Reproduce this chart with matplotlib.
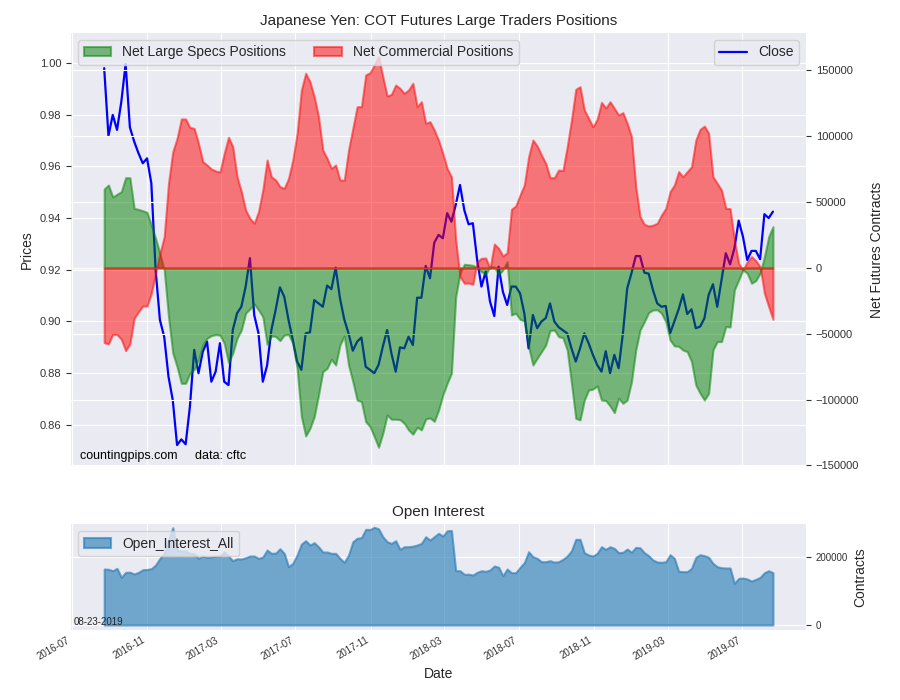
import numpy as np
import pandas as pd
import matplotlib
matplotlib.use("Agg")
import matplotlib.pyplot as plt
import matplotlib.dates as mdates

# weekly COT report dates
dates = pd.date_range("2016-08-23", periods=157, freq="7D")

close = [
    0.9980, 0.9718, 0.9799, 0.9741, 0.9850, 0.9996, 0.9751, 0.9696, 0.9651, 0.9612,
    0.9631, 0.9535, 0.9199, 0.9006, 0.8941, 0.8787, 0.8696, 0.8522, 0.8544, 0.8525,
    0.8671, 0.8890, 0.8800, 0.8883, 0.8922, 0.8767, 0.8806, 0.8916, 0.8767, 0.8754,
    0.8967, 0.9032, 0.9057, 0.9135, 0.9245, 0.9025, 0.8954, 0.8767, 0.8830, 0.8967,
    0.9045, 0.9132, 0.9096, 0.9006, 0.8929, 0.8845, 0.8813, 0.8954, 0.8958, 0.9083,
    0.9070, 0.9057, 0.9139, 0.9125, 0.9208, 0.9090, 0.9008, 0.8954, 0.8887, 0.8922,
    0.8938, 0.8825, 0.8813, 0.8800, 0.8832, 0.8903, 0.8967, 0.8877, 0.8806, 0.8900,
    0.8896, 0.8941, 0.8909, 0.9092, 0.9092, 0.9215, 0.9167, 0.9305, 0.9335, 0.9322,
    0.9419, 0.9386, 0.9451, 0.9528, 0.9431, 0.9376, 0.9380, 0.9238, 0.9135, 0.9193,
    0.9077, 0.9021, 0.9212, 0.9115, 0.9064, 0.9135, 0.9135, 0.9109, 0.9032, 0.8896,
    0.9025, 0.8974, 0.9000, 0.9013, 0.9070, 0.9000, 0.8978, 0.8966, 0.8954, 0.8896,
    0.8845, 0.8896, 0.8954, 0.8916, 0.8871, 0.8832, 0.8806, 0.8885, 0.8800, 0.8871,
    0.8819, 0.8954, 0.9128, 0.9187, 0.9253, 0.9253, 0.9189, 0.9185, 0.9122, 0.9070,
    0.9057, 0.9060, 0.8954, 0.9000, 0.9047, 0.9105, 0.9029, 0.9047, 0.8974, 0.8980,
    0.9012, 0.9103, 0.9144, 0.9057, 0.9161, 0.9264, 0.9221, 0.9283, 0.9390, 0.9328,
    0.9238, 0.9273, 0.9273, 0.9241, 0.9415, 0.9400, 0.9425,
]

large_specs = [
    60000, 63000, 54000, 56000, 58000, 68600, 68600, 45300, 44500, 43500,
    42300, 32700, 22500, 11100, -1500, -37000, -64600, -75000, -87600, -87600,
    -80000, -77000, -70000, -58500, -53400, -51400, -50600, -51000, -57200, -71900,
    -64600, -53400, -47100, -34400, -31000, -27300, -31900, -37000, -58000, -51600,
    -52000, -55200, -50900, -50500, -57200, -76200, -112900, -127600, -121800, -112900,
    -96500, -78700, -76200, -69400, -73700, -58500, -51600, -73700, -86300, -100300,
    -101500, -116700, -120500, -128100, -136200, -125600, -111700, -114900, -114900, -115200,
    -118000, -123000, -126300, -121000, -123000, -114700, -113900, -116500, -108000, -96500,
    -87600, -80000, -21800, -4000, 2800, 2500, 2000, 300, -2800, -4800,
    1000, 800, -5300, -1500, 4800, -35700, -34400, -39000, -40300, -59800,
    -73700, -68600, -63600, -58500, -47600, -47100, -52200, -53000, -62300, -87600,
    -114200, -115400, -100300, -92700, -92000, -89600, -100300, -100700, -104800, -109900,
    -99000, -102800, -100300, -86300, -62300, -47100, -40800, -33900, -31900, -31700,
    -34400, -40800, -54700, -59200, -59500, -62300, -63600, -71100, -88900, -95200,
    -100300, -95200, -62300, -55900, -55900, -44500, -44800, -16700, -9100, -1500,
    -4000, -11600, -9600, -4000, 8600, 23800, 31400,
]

commercial = [
    -56700, -57700, -50400, -50600, -54200, -62800, -57700, -38200, -33200, -28900,
    -28900, -19200, -4000, 11100, 23800, 64300, 88300, 98500, 113200, 113200,
    106800, 106000, 94700, 80800, 78200, 75200, 73700, 72900, 87100, 99300,
    92100, 69300, 58000, 44000, 37700, 34000, 42800, 59200, 82000, 69300,
    66800, 61800, 60500, 68000, 82000, 102300, 135200, 147900, 141500, 130100,
    114900, 89600, 83300, 75700, 78200, 66800, 66700, 89600, 106100, 122500,
    122500, 146600, 148300, 154200, 160500, 145300, 130600, 131900, 139000, 136500,
    132700, 135200, 140300, 122500, 126300, 109900, 111100, 104800, 97000, 87100,
    75700, 69300, 21300, -6600, -11600, -11400, -12400, 4800, 7400, 7600,
    -300, 18200, 15000, 9100, 11600, 44600, 47100, 55400, 63000, 84500,
    97200, 92700, 85800, 79500, 68600, 68600, 74400, 74000, 92100, 112400,
    135700, 137700, 120000, 113700, 107300, 112900, 125800, 121500, 126300, 121300,
    116200, 118000, 109900, 99700, 61800, 39000, 33200, 31900, 32500, 34000,
    40300, 45300, 58000, 63000, 73200, 69300, 73200, 76900, 97200, 105300,
    107800, 102300, 69300, 64300, 59200, 45300, 45100, 21300, 3500, -1500,
    4800, 8600, 5600, 1000, -19200, -29400, -39000,
]

open_interest = [
    164700, 164000, 159700, 166700, 140300, 155000, 155500, 150000, 155000, 162700,
    163500, 165700, 176500, 196100, 210800, 250000, 286200, 220600, 217600, 218000,
    210800, 210000, 196100, 202900, 199000, 200000, 202900, 202900, 215600, 202900,
    189100, 195000, 194000, 198000, 202900, 202900, 196100, 200000, 220600, 210800,
    211500, 224400, 210800, 171500, 181400, 205900, 238200, 248000, 235300, 242100,
    230000, 214700, 214700, 210800, 210800, 196100, 184400, 205900, 245000, 255000,
    257000, 281400, 280800, 287300, 283000, 259700, 245000, 240000, 248000, 222600,
    230300, 230300, 232000, 235300, 240300, 259700, 250000, 260000, 269700, 261700,
    277300, 278000, 159700, 159700, 149100, 149500, 147000, 155000, 159700, 158000,
    161800, 173500, 170000, 145000, 164700, 153800, 153800, 169700, 183300, 215600,
    200900, 196100, 186200, 186200, 189100, 185000, 186200, 193200, 202900, 218500,
    252000, 252000, 212700, 205900, 202900, 210800, 230300, 222600, 230300, 225500,
    212700, 214000, 223500, 214000, 228500, 227000, 212700, 203900, 191200, 185300,
    184400, 186200, 206800, 196100, 157900, 157000, 157000, 166700, 199100, 206800,
    203900, 199100, 181400, 171500, 168600, 167700, 167700, 122600, 137200, 138200,
    135300, 129400, 134300, 140300, 153800, 159700, 153800,
]

plt.style.use("seaborn-v0_8-darkgrid")
plt.rcParams["font.family"] = ["Liberation Sans", "DejaVu Sans"]
plt.rcParams["xtick.major.size"] = 0
plt.rcParams["ytick.major.size"] = 3.5
plt.rcParams["xtick.color"] = "#333333"
plt.rcParams["ytick.color"] = "#333333"

fig = plt.figure(figsize=(9, 7), dpi=100)
ax1 = fig.add_axes([0.079, 0.3343, 0.8166, 0.6186])
ax2 = ax1.twinx()
ax3 = fig.add_axes([0.079, 0.100, 0.8166, 0.1514], sharex=ax1)

# price line (left axis)
ax1.plot(dates, close, color="blue", lw=1.6, label="Close")
ax1.set_ylim(0.8441, 1.0116)
ax1.set_yticks(np.arange(0.86, 1.001, 0.02))
ax1.set_ylabel("Prices", fontsize=10)
ax1.tick_params(axis="y", labelsize=8)
ax1.legend(loc="upper right", frameon=True, fontsize=10, facecolor="#EAEAF2",
           edgecolor="#CCCCCC", framealpha=0.8)
ax1.set_title("Japanese Yen: COT Futures Large Traders Positions", fontsize=11)
ax1.text(0.012, 0.015, "countingpips.com     data: cftc", transform=ax1.transAxes,
         fontsize=9, color="black")

# net positions (right axis)
ax2.fill_between(dates, 0, large_specs, color="green", alpha=0.5, lw=1.5,
                 label="Net Large Specs Positions")
ax2.fill_between(dates, 0, commercial, color="red", alpha=0.5, lw=1.5,
                 label="Net Commercial Positions")
ax2.set_ylim(-150400, 178500)
ax2.set_yticks(np.arange(-150000, 150001, 50000))
ax2.set_ylabel("Net Futures Contracts", fontsize=10, labelpad=8)
ax2.tick_params(axis="y", labelsize=8)
ax2.grid(True, color="white")
ax2.legend(loc="upper left", ncol=2, frameon=True, fontsize=10, facecolor="#EAEAF2",
           edgecolor="#CCCCCC", framealpha=0.8)
plt.setp(ax1.get_xticklabels(), visible=False)

# open interest
ax3.fill_between(dates, 0, open_interest, color="#1f77b4", alpha=0.6, lw=1.5,
                 label="Open_Interest_All")
ax3.set_ylim(-14700, 297000)
ax3.set_yticks([0, 200000])
ax3.yaxis.tick_right()
ax3.yaxis.set_label_position("right")
ax3.set_ylabel("Contracts", fontsize=10)
ax3.tick_params(axis="y", labelsize=7)
ax3.set_title("Open Interest", fontsize=11)
ax3.set_xlabel("Date", fontsize=10)
ax3.legend(loc="upper left", frameon=True, fontsize=10, facecolor="#EAEAF2",
           edgecolor="#CCCCCC", framealpha=0.8)
ax3.text(0.003, 0.05, "08-23-2019", transform=ax3.transAxes, fontsize=7)

ax3.xaxis.set_major_locator(mdates.MonthLocator(bymonth=[3, 7, 11]))
ax3.xaxis.set_major_formatter(mdates.DateFormatter("%Y-%m"))
ax3.set_xlim(pd.Timestamp("2016-06-30"), pd.Timestamp("2019-10-13"))
for lbl in ax3.get_xticklabels():
    lbl.set_rotation(30)
    lbl.set_ha("right")
    lbl.set_fontsize(7)

fig.savefig("out.png", dpi=100)
